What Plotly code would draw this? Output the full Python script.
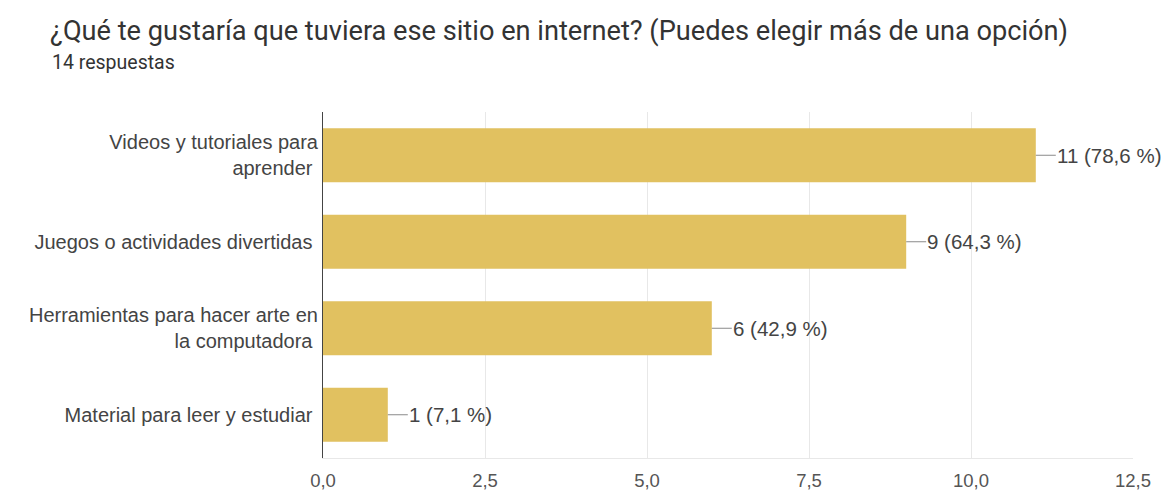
import plotly.graph_objects as go

categories = [
    "Videos y tutoriales para<br>aprender",
    "Juegos o actividades divertidas",
    "Herramientas para hacer arte en<br>la computadora",
    "Material para leer y estudiar",
]
counts = [11, 9, 6, 1]
percents = [78.6, 64.3, 42.9, 7.1]
labels = [f"{c} ({str(p).replace('.', ',')} %)" for c, p in zip(counts, percents)]
x_ticks = [0, 2.5, 5, 7.5, 10, 12.5]

title_text = "¿Qué te gustaría que tuviera ese sitio en internet? (Puedes elegir más de una opción)"
subtitle_text = "14 respuestas"

BAR = "#e1c160"
W, H = 1164, 493
L, R, T, B = 323, 31, 112, 35
ARIAL = "Liberation Sans, Arial"

fig = go.Figure()
fig.add_trace(go.Bar(
    x=counts, y=categories, orientation="h",
    marker=dict(color=BAR, line=dict(width=0)),
    hoverinfo="skip",
))

for c, cat, lab in zip(counts, categories, labels):
    fig.add_annotation(
        x=c, y=cat, xref="x", yref="y",
        text=lab, showarrow=True, arrowhead=0, arrowwidth=1,
        arrowcolor="#8a8a8a", ax=20, ay=0, xanchor="left",
        font=dict(family=ARIAL, size=20.5, color="#444444"),
        borderpad=0,
    )

fig.update_layout(
    width=W, height=H,
    paper_bgcolor="white", plot_bgcolor="white",
    margin=dict(l=L, r=R, t=T, b=B),
    showlegend=False,
    bargap=0.377,
    separators=",.",
    title=dict(
        text=title_text, x=50 / W, xanchor="left",
        y=1 - 30 / H, yanchor="middle",
        font=dict(family="Roboto", size=27.2, color="#333333"),
    ),
    xaxis=dict(
        range=[0, 12.5], tickvals=x_ticks, tickformat=".1f",
        showgrid=True, gridcolor="#e8e8e8", gridwidth=1,
        zeroline=False, showline=True, linecolor="#e8e8e8", linewidth=1,
        ticks="", ticklabelstandoff=6, automargin=False,
        tickfont=dict(family=ARIAL, size=18.5, color="#555555"),
        fixedrange=True,
    ),
    yaxis=dict(
        autorange="reversed", showline=True, linecolor="#444444", linewidth=1,
        showgrid=False, ticks="", ticksuffix=" ", automargin=False,
        tickfont=dict(family=ARIAL, size=20, color="#444444"),
        fixedrange=True,
    ),
)

fig.add_annotation(
    xref="paper", yref="paper",
    x=-(L - 50) / (W - L - R), xanchor="left",
    y=1 + (T - 62) / (H - T - B), yanchor="middle",
    text=subtitle_text, showarrow=False,
    font=dict(family="Roboto", size=19.5, color="#333333"),
)

fig.write_html("out.html")
